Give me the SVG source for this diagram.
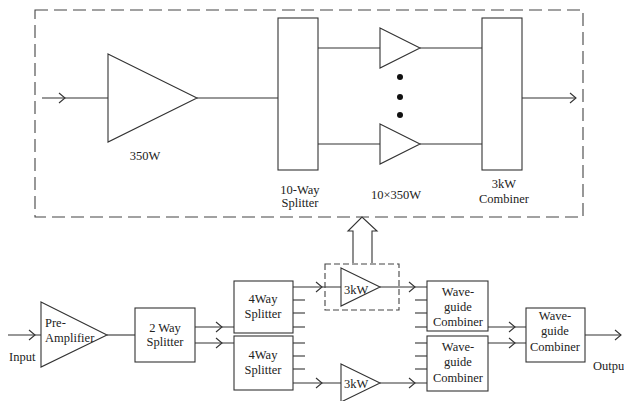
<svg xmlns="http://www.w3.org/2000/svg" width="624" height="401" viewBox="0 0 624 401">
<style>
.s{fill:none;stroke:#333;stroke-width:1.1}
.b{fill:#fff;stroke:#333;stroke-width:1.1}
.d{fill:none;stroke:#444;stroke-width:1.1;stroke-dasharray:13 6}
.d2{fill:none;stroke:#444;stroke-width:1.1;stroke-dasharray:6 3}
.t{font-family:"Liberation Serif","Times New Roman",serif;font-size:12.5px;fill:#222}
.m{text-anchor:middle}
</style>
<defs>
<path id="ch" d="M-6,-5 L0,0 L-6,5" fill="none" stroke="#333" stroke-width="1.1"/>
</defs>
<rect width="624" height="401" fill="#fff"/>
<g id="connectors">
<line class="s" x1="42" y1="98" x2="108" y2="98"/>
<use href="#ch" x="65" y="98"/>
<line class="s" x1="197" y1="98" x2="278" y2="98"/>
<line class="s" x1="318" y1="48" x2="380" y2="48"/>
<line class="s" x1="318" y1="144" x2="380" y2="144"/>
<line class="s" x1="420" y1="48" x2="482" y2="48"/>
<line class="s" x1="420" y1="144" x2="482" y2="144"/>
<line class="s" x1="522" y1="98" x2="576" y2="98"/>
<use href="#ch" x="576" y="98"/>
<path class="s" d="M353,263 V231 H348 L362,217 L377,231 H372 V263"/>
<line class="s" x1="8" y1="335" x2="41" y2="335"/>
<use href="#ch" x="35" y="335"/>
<line class="s" x1="107" y1="335" x2="135" y2="335"/>
<line class="s" x1="195" y1="327" x2="234" y2="327"/>
<line class="s" x1="195" y1="343" x2="234" y2="343"/>
<use href="#ch" x="222" y="327"/>
<use href="#ch" x="222" y="343"/>
<line class="s" x1="293" y1="287" x2="341" y2="287"/>
<use href="#ch" x="322" y="287"/>
<line class="s" x1="293" y1="300" x2="305" y2="300"/>
<line class="s" x1="293" y1="313" x2="305" y2="313"/>
<line class="s" x1="293" y1="327" x2="305" y2="327"/>
<line class="s" x1="293" y1="343" x2="305" y2="343"/>
<line class="s" x1="293" y1="356" x2="305" y2="356"/>
<line class="s" x1="293" y1="369" x2="305" y2="369"/>
<line class="s" x1="293" y1="383" x2="341" y2="383"/>
<use href="#ch" x="322" y="383"/>
<line class="s" x1="380" y1="287" x2="427" y2="287"/>
<use href="#ch" x="415" y="287"/>
<line class="s" x1="415" y1="300" x2="427" y2="300"/>
<line class="s" x1="415" y1="313" x2="427" y2="313"/>
<line class="s" x1="415" y1="327" x2="427" y2="327"/>
<line class="s" x1="415" y1="343" x2="427" y2="343"/>
<line class="s" x1="415" y1="356" x2="427" y2="356"/>
<line class="s" x1="415" y1="369" x2="427" y2="369"/>
<line class="s" x1="380" y1="383" x2="427" y2="383"/>
<use href="#ch" x="415" y="383"/>
<line class="s" x1="488" y1="327" x2="526" y2="327"/>
<line class="s" x1="488" y1="343" x2="526" y2="343"/>
<use href="#ch" x="515" y="327"/>
<use href="#ch" x="515" y="343"/>
<line class="s" x1="585" y1="335" x2="621" y2="335"/>
<use href="#ch" x="621" y="335"/>
</g>
<g id="module-box"><rect class="d" x="35" y="10" width="548" height="207"/></g>
<g id="amp350"><path class="b" d="M108,54 L197,98 L108,142 Z"/><text class="t m" x="145" y="160">350W</text></g>
<g id="splitter10"><rect class="b" x="278" y="18" width="40" height="152"/><text class="t m" x="300" y="194">10-Way</text><text class="t m" x="300" y="207">Splitter</text></g>
<g id="amps10">
<path class="b" d="M380,28 L420,48 L380,68 Z"/>
<path class="b" d="M380,124 L420,144 L380,164 Z"/>
<circle cx="400" cy="77" r="3" fill="#111"/>
<circle cx="400" cy="97" r="3" fill="#111"/>
<circle cx="400" cy="115" r="3" fill="#111"/>
<text class="t m" x="396" y="199">10×350W</text>
</g>
<g id="combiner3k"><rect class="b" x="482" y="18" width="40" height="152"/><text class="t m" x="504" y="188">3kW</text><text class="t m" x="504" y="203">Combiner</text></g>
<g id="input"><text class="t" x="9" y="361">Input</text></g>
<g id="preamp"><path class="b" d="M41,302 L107,335 L41,367 Z"/><text class="t" x="45" y="327">Pre-</text><text class="t" x="45" y="342">Amplifier</text></g>
<g id="split2"><rect class="b" x="135" y="308" width="60" height="54"/><text class="t m" x="165" y="332">2 Way</text><text class="t m" x="165" y="346">Splitter</text></g>
<g id="split4a"><rect class="b" x="234" y="281" width="59" height="52"/><text class="t m" x="263" y="303">4Way</text><text class="t m" x="263" y="318">Splitter</text></g>
<g id="split4b"><rect class="b" x="234" y="336" width="59" height="54"/><text class="t m" x="263" y="359">4Way</text><text class="t m" x="263" y="374">Splitter</text></g>
<g id="amp3kA"><rect class="d2" x="325" y="264" width="74" height="46"/><path class="b" d="M341,268 L380,287 L341,306 Z"/><text class="t" x="344" y="294">3kW</text></g>
<g id="amp3kB"><path class="b" d="M341,364 L380,383 L341,402 Z"/><text class="t" x="344" y="388">3kW</text></g>
<g id="wgA"><rect class="b" x="427" y="281" width="61" height="50"/><text class="t m" x="458" y="296">Wave-</text><text class="t m" x="458" y="311">guide</text><text class="t m" x="458" y="326">Combiner</text></g>
<g id="wgB"><rect class="b" x="427" y="336" width="61" height="55"/><text class="t m" x="458" y="351">Wave-</text><text class="t m" x="458" y="366">guide</text><text class="t m" x="458" y="382">Combiner</text></g>
<g id="wgC"><rect class="b" x="526" y="308" width="59" height="54"/><text class="t m" x="555" y="320">Wave-</text><text class="t m" x="555" y="335">guide</text><text class="t m" x="555" y="351">Combiner</text></g>
<g id="output"><text class="t" x="593" y="370">Output</text></g>
</svg>
